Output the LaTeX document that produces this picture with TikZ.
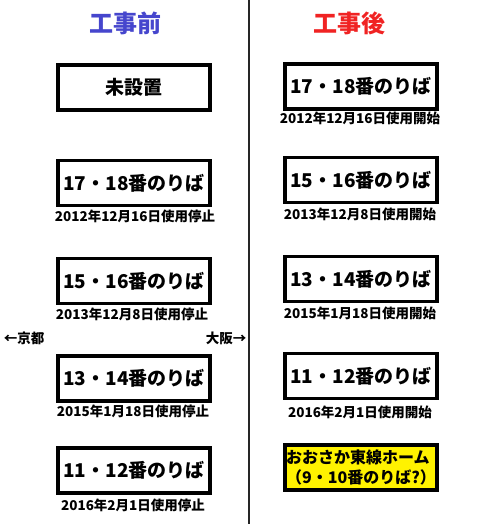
\documentclass[tikz,border=0pt]{standalone}
\usepackage{fontspec}
\setmainfont{Noto Sans CJK JP}
\definecolor{maeblue}{RGB}{70,70,205}
\definecolor{atored}{RGB}{240,35,35}
\begin{document}
\begin{tikzpicture}[x=1pt,y=-1pt,
    box/.style={draw,line width=3.5pt,minimum width=152pt,minimum height=45pt,
      inner sep=0pt,font=\bfseries\fontsize{19}{19}\selectfont},
    caption/.style={inner sep=0pt,font=\bfseries\fontsize{13.5}{13.5}\selectfont},
    title/.style={inner sep=0pt,font=\bfseries\fontsize{24}{24}\selectfont}]
  \useasboundingbox (0,0) rectangle (480,524);
  \coordinate (top) at (249,0);
  \coordinate (bottom) at (249,524);
  \draw[line width=2pt,black!85] (top) -- (bottom);
  \node[title,text=maeblue] (mae) at (125,23) {工事前};
  \node[title,text=atored] (ato) at (349,23) {工事後};
  \node[caption] (kyoto) at (24,338) {←京都};
  \node[caption] (osaka) at (226,338) {大阪→};
  % before
  \node[box] (m0) at (134,87.5) {未設置};
  \node[box] (m1) at (134,183) {17・18番のりば};
  \node[box] (m2) at (134,281) {15・16番のりば};
  \node[box] (m3) at (134,378.5) {13・14番のりば};
  \node[box] (m4) at (134,470.5) {11・12番のりば};
  \node[caption] (c1) at (135,216) {2012年12月16日使用停止};
  \node[caption] (c2) at (132,314) {2013年12月8日使用停止};
  \node[caption] (c3) at (133,411) {2015年1月18日使用停止};
  \node[caption] (c4) at (133,505) {2016年2月1日使用停止};
  % after
  \node[box] (a1) at (361,86.5) {17・18番のりば};
  \node[box] (a2) at (361,180) {15・16番のりば};
  \node[box] (a3) at (361,279) {13・14番のりば};
  \node[box] (a4) at (361,376) {11・12番のりば};
  \node[box,fill=yellow,align=left,font=\bfseries\fontsize{16}{20}\selectfont]
    (a5) at (361,467.5) {おおさか東線ホーム\\（9・10番のりば?）};
  \node[caption] (d1) at (360,118) {2012年12月16日使用開始};
  \node[caption] (d2) at (360,214) {2013年12月8日使用開始};
  \node[caption] (d3) at (360,313) {2015年1月18日使用開始};
  \node[caption] (d4) at (360,412) {2016年2月1日使用開始};
\end{tikzpicture}
\end{document}
